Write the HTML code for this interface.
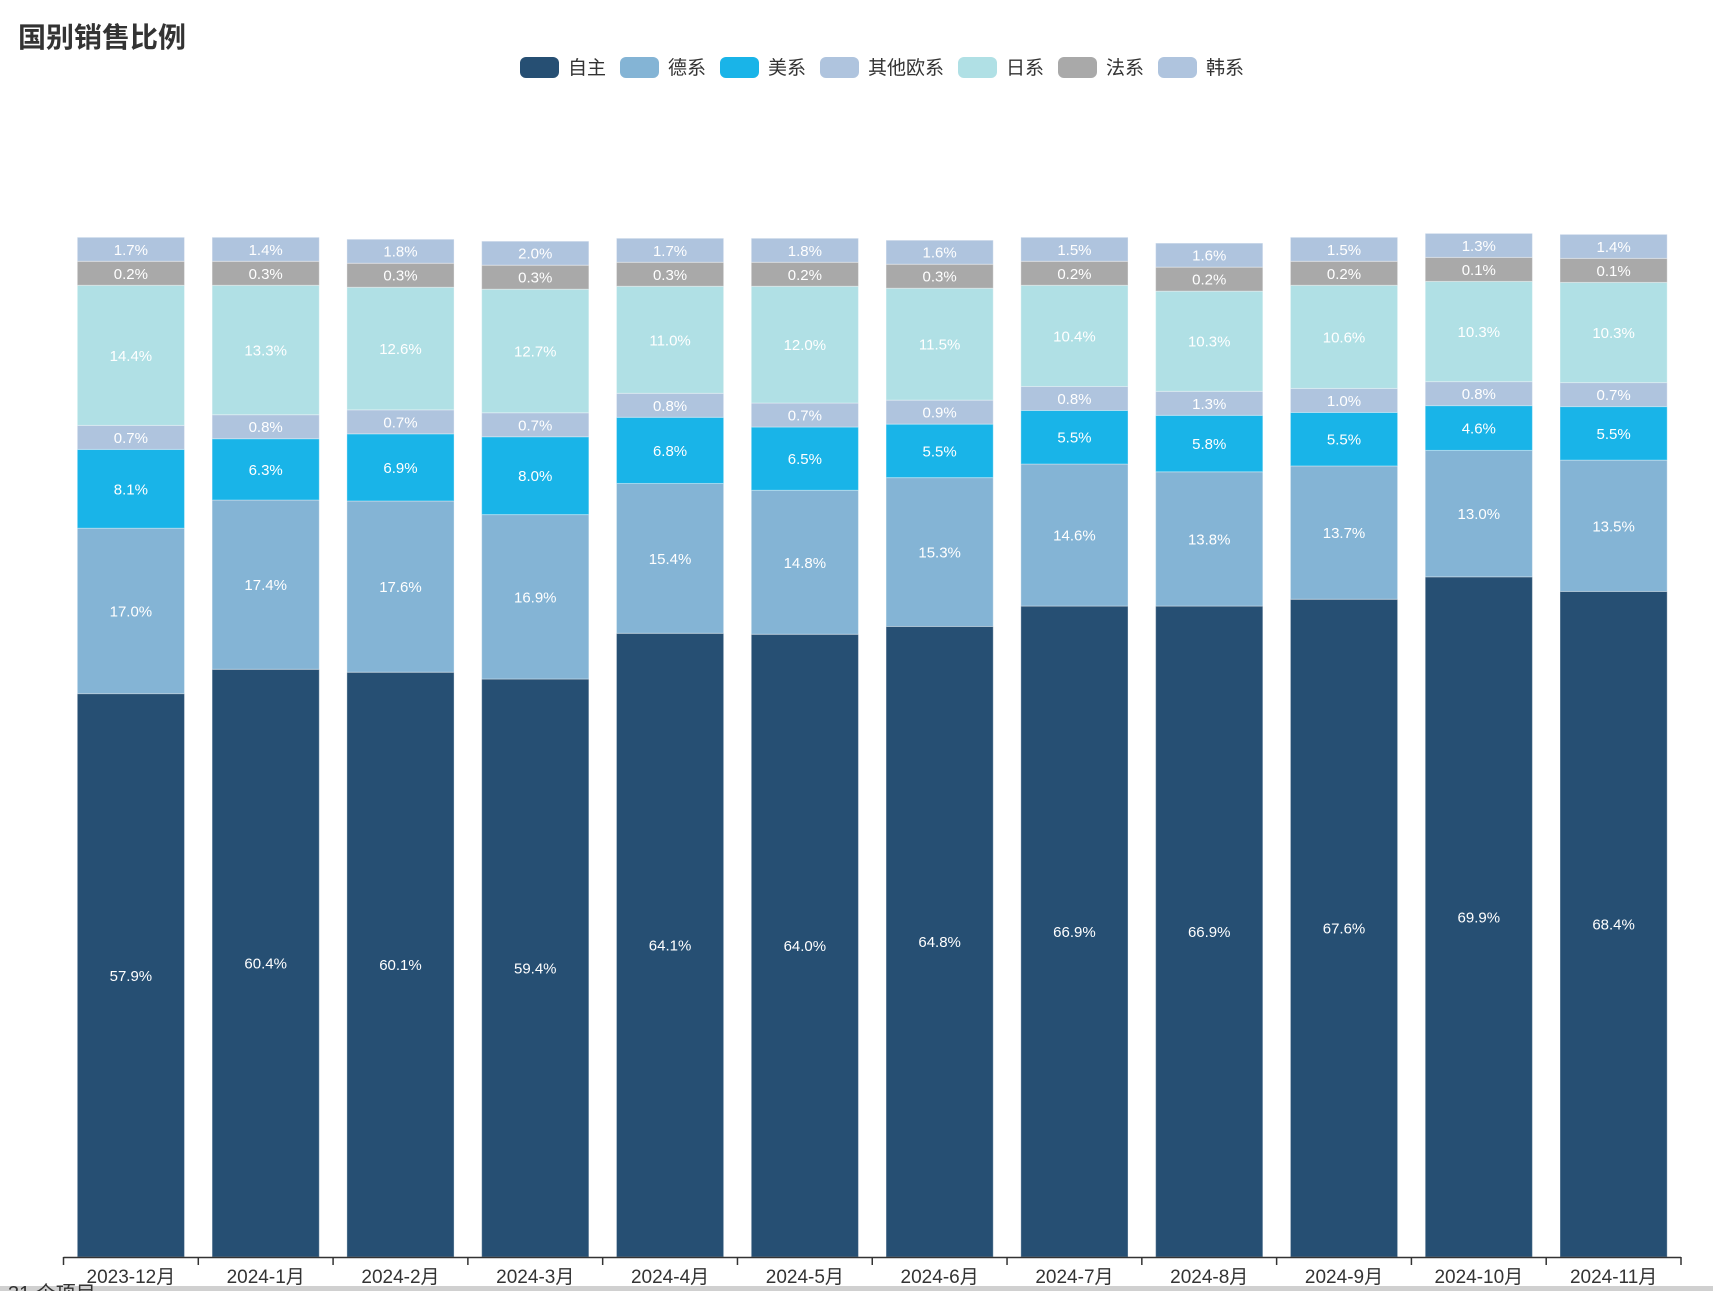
<!DOCTYPE html>
<html><head><meta charset="utf-8"><style>
html,body{margin:0;padding:0;background:#fff;width:1713px;height:1291px;overflow:hidden}
svg{display:block;font-family:"Liberation Sans","Noto Sans CJK SC",sans-serif}
</style></head><body>
<svg id="chart" width="1713" height="1291" viewBox="0 0 1713 1291" xmlns="http://www.w3.org/2000/svg">
<text x="18" y="47" font-size="28" font-weight="bold" fill="#333">国别销售比例</text>
<g id="legend"></g>
<g id="bars"></g>
<g id="axis"></g>
<rect x="0" y="1286" width="1713" height="5" fill="#d0d0d0"/>
<text x="8" y="1300" font-size="20" fill="#333">31 个项目</text>
</svg>
<script>
const categories=["2023-12月","2024-1月","2024-2月","2024-3月","2024-4月","2024-5月","2024-6月","2024-7月","2024-8月","2024-9月","2024-10月","2024-11月"];
const seriesNames=["自主","德系","美系","其他欧系","日系","法系","韩系"];
const zizhu=[57.9,60.4,60.1,59.4,64.1,64.0,64.8,66.9,66.9,67.6,69.9,68.4];
const dexi=[17.0,17.4,17.6,16.9,15.4,14.8,15.3,14.6,13.8,13.7,13.0,13.5];
const meixi=[8.1,6.3,6.9,8.0,6.8,6.5,5.5,5.5,5.8,5.5,4.6,5.5];
const qitaouxi=[0.7,0.8,0.7,0.7,0.8,0.7,0.9,0.8,1.3,1.0,0.8,0.7];
const rixi=[14.4,13.3,12.6,12.7,11.0,12.0,11.5,10.4,10.3,10.6,10.3,10.3];
const faxi=[0.2,0.3,0.3,0.3,0.3,0.2,0.3,0.2,0.2,0.2,0.1,0.1];
const hanxi=[1.7,1.4,1.8,2.0,1.7,1.8,1.6,1.5,1.6,1.5,1.3,1.4];
const seriesValues=[zizhu,dexi,meixi,qitaouxi,rixi,faxi,hanxi];
const colors=["#264f73","#84b4d5","#19b4e8","#afc4de","#b0e0e5","#a9a9a9","#afc4de"];
const keys=["zizhu","dexi","meixi","qitaouxi","rixi","faxi","hanxi"];
const NS="http://www.w3.org/2000/svg";
const x0=63.5,x1=1681,base=1257,k=9.73,minH=24;
const band=(x1-x0)/categories.length,bw=band*0.795;
function xPos(i){return x0+band*i+(band-bw)/2;}
function hOf(v){return Math.max(v*k,minH);}
function mk(tag,attrs,parent){const e=document.createElementNS(NS,tag);for(const a in attrs)e.setAttribute(a,attrs[a]);parent.appendChild(e);return e;}
const lg=document.getElementById('legend');
let lx=520;
seriesNames.forEach((n,s)=>{
  const g=mk('g',{},lg);
  
  
  mk('rect',{x:lx,y:57,width:39,height:21,rx:6,fill:colors[s]},g);
  const t=mk('text',{x:lx+48,y:74,'font-size':19,fill:'#333'},g);
  t.textContent=n;
  lx+=48+n.length*19+14;
});
const bg=document.getElementById('bars');
categories.forEach((c,i)=>{
  let y=base;
  const g=mk('g',{},bg);
  
  
  seriesValues.forEach((arr,s)=>{
    const v=arr[i],h=hOf(v);y-=h;
    const r=mk('rect',{x:xPos(i),y:y,width:bw,height:h,fill:colors[s],stroke:'rgba(255,255,255,0.35)','stroke-width':1},g);
    
    
    const t=mk('text',{x:xPos(i)+bw/2,y:y+h/2+5.5,'text-anchor':'middle','font-size':15,fill:'#fff'},g);
    
    
    t.textContent=v.toFixed(1)+'%';
  });
});
const ax=document.getElementById('axis');
mk('line',{x1:x0,y1:base+0.5,x2:x1,y2:base+0.5,stroke:'#333','stroke-width':1.5},ax);
for(let i=0;i<=categories.length;i++){
  const tx=x0+band*i;
  mk('line',{x1:tx,y1:base,x2:tx,y2:base+8,stroke:'#333','stroke-width':1.5},ax);
}
categories.forEach((c,i)=>{
  const t=mk('text',{x:x0+band*i+band/2,y:1283,'text-anchor':'middle','font-size':19,fill:'#333'},ax);
  
  
  t.textContent=c;
});
</script>
</body></html>
